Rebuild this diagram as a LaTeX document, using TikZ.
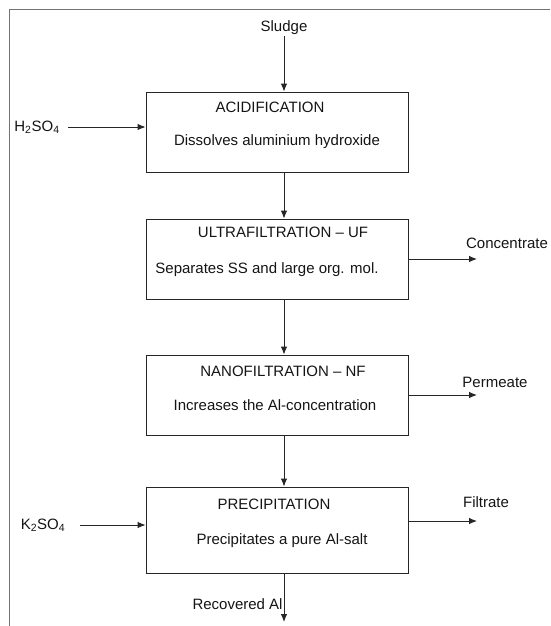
\documentclass[tikz,border=0pt]{standalone}
\usepackage{fontspec}
\setmainfont{Liberation Sans}
\usetikzlibrary{arrows.meta}
\usetikzlibrary{positioning}
\tikzset{
    process/.style={
           rectangle,
           draw=black!85, line width=0.9pt,
           minimum width=262pt,
           minimum height=80pt,
           inner sep=0pt,
           },
    txt/.style={
           font=\fontsize{15}{18}\selectfont,
           text=black!92,
           inner sep=1pt,
           },
    frame/.style={draw=black!55, line width=1.8pt},
}

\begin{document}
\begin{tikzpicture}[x=1pt,y=-1pt,->,>={Latex[length=8pt,width=6.5pt]},line width=0.9pt,draw=black!85]
        \useasboundingbox (0,0) rectangle (550,626);
        % outer frame (left and top only)
        \draw[frame,-] (9.5,626) |- (550,9.5);

        % STEP ACIDIFICATION
        \node[process] (E_ACID) at (277,132) {};
        \node[txt, above of=E_ACID, node distance=25pt, xshift=-7pt] (T_ACID) {ACIDIFICATION};
        \node[txt, below of=E_ACID, node distance=10pt] (S_ACID) {Dissolves aluminium hydroxide};

        % STEP ULTRAFILTRATION
        \node[process, below of=E_ACID, node distance=127pt] (E_UF) {};
        \node[txt, above of=E_UF, node distance=27pt, xshift=6pt] (T_UF) {ULTRAFILTRATION – UF};
        \node[txt, below of=E_UF, node distance=11pt, xshift=-10pt] (S_UF) {Separates SS and large org. mol.};

        % STEP NANOFILTRATION
        \node[process, below of=E_UF, node distance=136pt] (E_NF) {};
        \node[txt, above of=E_NF, node distance=24pt, xshift=6pt] (T_NF) {NANOFILTRATION – NF};
        \node[txt, below of=E_NF, node distance=10pt, xshift=-2pt] (S_NF) {Increases the Al-concentration};

        % STEP PRECIPITATION
        \node[process, minimum height=86pt, below of=E_NF, node distance=135pt] (E_PREC) {};
        \node[txt, above of=E_PREC, node distance=26pt, xshift=-3pt] (T_PREC) {PRECIPITATION};
        \node[txt, below of=E_PREC, node distance=11pt, xshift=5pt] (S_PREC) {Precipitates a pure Al-salt};

        % inputs
        \node[txt, above of=E_ACID, node distance=104pt, xshift=7pt] (SLUDGE) {Sludge};
        \node[txt] (H2SO4) at (37,127) {H\textsubscript{2}SO\textsubscript{4}};
        \node[txt] (K2SO4) at (43,525) {K\textsubscript{2}SO\textsubscript{4}};

        % outputs
        \coordinate (C_CONC) at (477,259);
        \coordinate (C_PERM) at (477,395);
        \coordinate (C_FILT) at (477,521);
        \coordinate (C_AL)   at (284,622);
        \node[txt, above of=C_CONC, node distance=16pt, xshift=30pt] (CONC) {Concentrate};
        \node[txt, above of=C_PERM, node distance=13pt, xshift=18pt] (PERM) {Permeate};
        \node[txt, above of=C_FILT, node distance=19pt, xshift=9pt] (FILT) {Filtrate};
        \node[txt, anchor=east, inner sep=0pt] (RECAL) at (283,604) {Recovered Al};

        % connectors
        \draw (SLUDGE.south) -- (SLUDGE |- E_ACID.north);
        \draw[shorten <=7pt] (H2SO4.east) -- (H2SO4 -| E_ACID.west);
        \draw ([xshift=7pt]E_ACID.south) -- ([xshift=7pt]E_UF.north);
        \draw (E_UF.east) -- (C_CONC);
        \draw ([xshift=7pt]E_UF.south) -- ([xshift=7pt]E_NF.north);
        \draw (E_NF.east) -- (C_PERM);
        \draw ([xshift=7pt]E_NF.south) -- ([xshift=7pt]E_PREC.north);
        \draw[shorten <=13pt] (K2SO4.east) -- (K2SO4 -| E_PREC.west);
        \draw (E_PREC.east |- C_FILT) -- (C_FILT);
        \draw ([xshift=7pt]E_PREC.south) -- (C_AL);

\end{tikzpicture}
\end{document}
